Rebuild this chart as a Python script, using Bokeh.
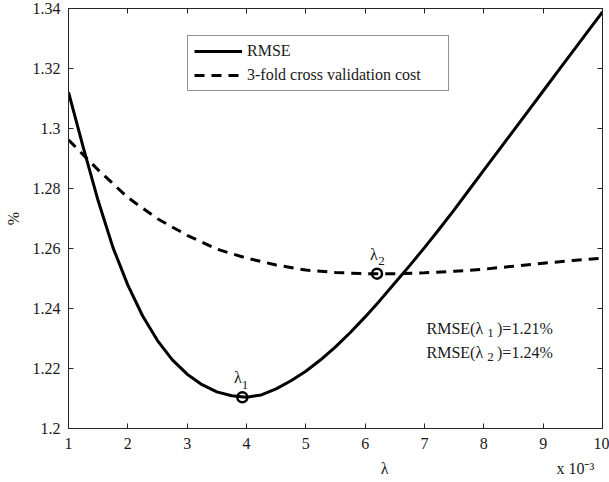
from bokeh.plotting import figure
from bokeh.models import (Range1d, FixedTicker, LinearAxis, Legend, LegendItem, Label)
from bokeh.embed import file_html
from bokeh.resources import INLINE

# ---- data ----
lam_rmse = [1.0, 1.25, 1.5, 1.75, 2.0, 2.25, 2.5, 2.75, 3.0, 3.25, 3.5, 3.75, 4.0,
            4.25, 4.5, 4.75, 5.0, 5.25, 5.5, 5.75, 6.0, 6.25, 6.5, 6.75, 7.0,
            7.25, 7.5, 7.75, 8.0, 8.25, 8.5, 8.75, 9.0, 9.25, 9.5, 9.75, 10.0]
rmse = [1.3121, 1.2936, 1.2759, 1.2603, 1.2478, 1.2375, 1.2293, 1.2229, 1.2181,
        1.2146, 1.2122, 1.2109, 1.2104, 1.2112, 1.2132, 1.2159, 1.2191, 1.2229,
        1.2272, 1.2320, 1.2372, 1.2427, 1.2485, 1.2543, 1.2603, 1.2665, 1.2729,
        1.2795, 1.2861, 1.2927, 1.2993, 1.3059, 1.3125, 1.3191, 1.3257, 1.3323, 1.3389]
lam_cv = [1.0, 1.5, 2.0, 2.5, 3.0, 3.5, 4.0, 4.5, 5.0, 5.5, 6.0, 6.5, 7.0, 7.5,
          8.0, 8.5, 9.0, 9.5, 10.0]
cv_cost = [1.2962, 1.2862, 1.2770, 1.2699, 1.2644, 1.2598, 1.2568, 1.2545, 1.2528,
           1.2520, 1.2516, 1.2516, 1.2519, 1.2524, 1.2531, 1.2541, 1.2551, 1.2560, 1.2568]
opt_lam = [3.93, 6.20]
opt_val = [1.2104, 1.2516]
x_ticks = [1, 2, 3, 4, 5, 6, 7, 8, 9, 10]
y_ticks = [1.2, 1.22, 1.24, 1.26, 1.28, 1.3, 1.32, 1.34]
y_tick_labels = ["1.2", "1.22", "1.24", "1.26", "1.28", "1.3", "1.32", "1.34"]
legend_labels = ["RMSE", "3-fold cross validation cost"]
rmse_texts = [("1", ")=1.21%"), ("2", ")=1.24%")]
x_label = "λ"
x_scale_note = "x 10⁻³"

FONT = "'Times New Roman', 'Liberation Serif', serif"
AX = "#262626"
TXT = "#1a1a1a"

p = figure(width=609, height=482, x_range=Range1d(1, 10), y_range=Range1d(1.2, 1.34),
           output_backend="svg", toolbar_location=None,
           min_border_left=68, min_border_right=7, min_border_top=8, min_border_bottom=54)
p.xgrid.visible = False
p.ygrid.visible = False
p.outline_line_color = AX
p.background_fill_color = "white"
p.border_fill_color = "white"

def style_axis(ax, ticks, show_labels=True):
    ax.ticker = FixedTicker(ticks=ticks)
    ax.axis_line_color = AX
    ax.major_tick_line_color = AX
    ax.major_tick_in = 5
    ax.major_tick_out = 0
    ax.minor_tick_line_color = None
    ax.major_label_text_font = FONT
    ax.major_label_text_color = TXT
    if show_labels:
        ax.major_label_text_font_size = "16px"
    else:
        ax.major_label_overrides = {t: "" for t in ticks}
        ax.major_label_text_font_size = "0px"
        ax.major_label_standoff = 0

xa = p.xaxis[0]
ya = p.yaxis[0]
style_axis(xa, x_ticks)
style_axis(ya, y_ticks)
ya.major_label_overrides = {v: s for v, s in zip(y_ticks, y_tick_labels)}
xa.major_label_standoff = 9
ya.major_label_standoff = 8
# x label: "λ" under the axis centre-right, and the scale note at the right end,
# kept on the same line with fixed-width (em / en) spaces
EM, EN = "\u2003", "\u2002"
xa.axis_label = EM * 19 + x_label + EM * 10 + EN + x_scale_note
ya.axis_label = "%"
for a in (xa, ya):
    a.axis_label_text_font = FONT
    a.axis_label_text_font_size = "16px"
    a.axis_label_text_font_style = "normal"
    a.axis_label_text_color = TXT
xa.axis_label_standoff = 8
ya.axis_label_standoff = 8

top = LinearAxis()
right = LinearAxis()
style_axis(top, x_ticks, show_labels=False)
style_axis(right, y_ticks, show_labels=False)
p.add_layout(top, "above")
p.add_layout(right, "right")

r1 = p.line(lam_rmse, rmse, line_color="black", line_width=3)
r2 = p.line(lam_cv, cv_cost, line_color="black", line_width=3, line_dash="10 7")
p.scatter(opt_lam, opt_val, marker="circle", size=10, fill_color=None,
          line_color="black", line_width=2.5)

legend = Legend(items=[LegendItem(label=legend_labels[0], renderers=[r1]),
                       LegendItem(label=legend_labels[1], renderers=[r2])],
                location=(119, 337))
legend.border_line_color = AX
legend.border_line_width = 1
legend.background_fill_color = "white"
legend.background_fill_alpha = 1
legend.glyph_width = 48
legend.glyph_height = 18
legend.label_height = 18
legend.label_width = 195
legend.spacing = 6
legend.padding = 6
legend.margin = 0
legend.label_standoff = 5
legend.label_text_font = FONT
legend.label_text_font_size = "16px"
legend.label_text_color = TXT
p.add_layout(legend)

def X(px):
    return 1 + (px - 68) / 59.33

def Y(py):
    return 1.34 - (py - 8) / 3000.0

def lab(x, y, t, size, align="left", baseline="alphabetic"):
    p.add_layout(Label(x=x, y=y, text=t, text_font=FONT, text_font_size=size,
                       text_align=align, text_baseline=baseline, text_color=TXT))

# lambda marker labels
lab(X(237.3), Y(377), "λ", "16px", "center", "middle")
lab(X(244.5), Y(384), "1", "13px", "center", "middle")
lab(X(373.3), Y(253.5), "λ", "16px", "center", "middle")
lab(X(381), Y(260.7), "2", "13px", "center", "middle")

# RMSE annotation
for i, (sub, rest) in enumerate(rmse_texts):
    base = 328 + i * 23.5
    lab(X(426), Y(base), "RMSE(λ", "16px")
    lab(X(490), Y(base + 4.5), sub, "13px", "center", "middle")
    lab(X(496.5), Y(base), rest, "16px")

open("out.html", "w").write(file_html(p, INLINE))
